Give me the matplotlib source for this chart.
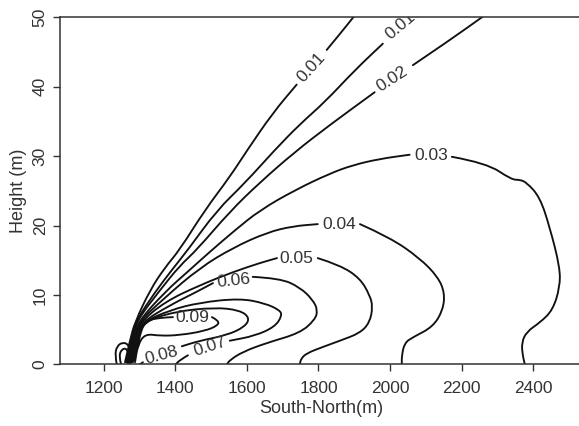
import numpy as np
import matplotlib
matplotlib.use("Agg")
import matplotlib.pyplot as plt
from matplotlib.path import Path
from matplotlib.patches import PathPatch

plt.rcParams["font.family"] = ["Liberation Sans", "DejaVu Sans"]

nan = np.nan

# concentration isolines, digitised along South-North (m) and height (m);
# NaN marks the gap left for the inline label
levels = ["0.01", "0.015", "0.02", "0.03", "0.04", "0.05", "0.06", "0.07", "0.08", "0.09"]

c010_x = [1259, 1273, 1287, 1329, 1370, 1412, 1482, 1552, 1600, 1672, 1739, nan, 1823, 1860, 1902]
c010_y = [0.3, 3.5, 6.1, 10.7, 13.9, 16.5, 22.2, 27.0, 30.8, 36.2, 40.3, nan, 45.3, 47.6, 50.3]
c015_x = [1262, 1276, 1290, 1343, 1390, 1435, 1516, 1594, 1678, 1748, 1818, 1902, 1980]
c015_y = [0.3, 3.5, 6.3, 10.4, 13.6, 16.5, 22.2, 26.1, 30.9, 34.6, 37.8, 42.4, 46.2]
c020_x = [1264, 1278, 1292, 1357, 1412, 1460, 1552, 1636, 1734, 1832, 1957, nan, 2064, 2167, 2265]
c020_y = [0.3, 3.5, 6.3, 10.7, 14.2, 16.5, 22.0, 26.2, 30.6, 34.5, 39.2, nan, 43.1, 46.7, 50.3]
c030_x = [1267, 1281, 1295, 1370, 1440, 1496, 1566, 1636, 1734, 1832, 1896, 1971, 2055, nan,
          2173, 2270, 2340, 2363, 2382, 2419, 2447, 2475, 2475, 2455, 2419, 2382, 2368, 2371, 2377]
c030_y = [0.3, 3.5, 6.1, 10.4, 13.6, 16.2, 19.3, 22.2, 25.1, 27.5, 28.7, 29.6, 30.2, nan,
          29.9, 29.0, 26.6, 26.6, 26.2, 24.1, 19.7, 14.0, 11.1, 7.8, 6.0, 4.7, 3.1, 1.3, 0]
c040_x = [1270, 1284, 1298, 1370, 1468, 1561, 1656, 1728, 1798, nan,
          1916, 1999, 2083, 2134, 2153, 2148, 2120, 2064, 2041, 2033, 2033]
c040_y = [0.3, 3.5, 6.1, 9.6, 13.9, 16.8, 19.0, 19.9, 20.2, nan,
          20.2, 18.3, 15.3, 12.6, 10.3, 7.8, 5.4, 3.9, 3.1, 1.3, 0]
c050_x = [1273, 1287, 1301, 1370, 1468, 1561, 1636, 1684, nan,
          1798, 1860, 1916, 1943, 1952, 1943, 1916, 1860, 1812, 1767, 1751, 1748]
c050_y = [0.3, 3.5, 6.0, 9.0, 11.4, 13.3, 14.6, 15.3, nan,
          15.3, 14.3, 12.4, 10.0, 8.3, 6.0, 4.5, 3.4, 2.5, 1.6, 0.8, 0]
c060_x = [1276, 1290, 1304, 1384, 1454, 1505, nan,
          1616, 1692, 1748, 1784, 1798, 1790, 1748, 1656, 1588, 1552, 1544]
c060_y = [0.3, 3.5, 6.0, 8.5, 10.3, 11.7, nan,
          12.6, 12.4, 11.1, 9.3, 7.8, 6.4, 4.5, 3.1, 1.8, 0.6, 0]
c070_x = [1278, 1292, 1306, 1384, 1468, 1580, 1650, 1692, 1698, 1678, 1622, 1552, nan, 1435, 1412, 1401]
c070_y = [0.3, 3.5, 6.0, 7.8, 8.9, 9.5, 8.8, 7.8, 7.0, 5.4, 4.1, 3.4, nan, 1.3, 0.6, 0]
c080_x = [1281, 1295, 1309, 1398, 1510, 1580, 1608, 1594, 1544, 1468, 1418, nan, 1309, 1301]
c080_y = [0.3, 3.5, 6.1, 7.6, 8.2, 7.8, 6.7, 5.4, 4.2, 3.4, 2.6, nan, 0.3, 0]
c090_x = [1284, 1298, 1315, 1357, 1393, nan, 1502, 1521, 1519, 1482, 1412, 1357, 1315, 1295, 1287]
c090_y = [0.6, 3.8, 6.3, 6.7, 6.8, nan, 6.8, 6.3, 5.6, 4.8, 4.2, 4.1, 4.4, 2.8, 0.3]

# small closed isolines right at the source
core_outer_x = [1236, 1231, 1236, 1253, 1270, 1276, 1273]
core_outer_y = [0, 1.3, 2.6, 3.2, 2.8, 1.3, 0]
core_inner_x = [1248, 1242, 1250, 1264, 1270, 1267]
core_inner_y = [0, 1.2, 2.2, 2.3, 1.2, 0]

# where each level's label sits, and its angle
label_x = [1781, 2040, 2005, 2114, 1857, 1739, 1563, 1496, 1362, 1446]
label_y = [42.8, 49.3, 41.1, 30.1, 20.1, 15.3, 12.1, 2.5, 1.3, 6.8]
label_rot = [48, 40, 33, 0, 0, 0, 6, 18, 15, 0]

paths = [(c010_x, c010_y), (c015_x, c015_y), (c020_x, c020_y), (c030_x, c030_y),
         (c040_x, c040_y), (c050_x, c050_y), (c060_x, c060_y), (c070_x, c070_y),
         (c080_x, c080_y), (c090_x, c090_y),
         (core_outer_x, core_outer_y), (core_inner_x, core_inner_y)]

x_ticks = [1200, 1400, 1600, 1800, 2000, 2200, 2400]
y_ticks = [0, 10, 20, 30, 40, 50]


def smooth_path(xs, ys):
    """Quadratic-Bezier path through the digitised vertices, broken at NaNs."""
    verts, codes = [], []
    pts = np.column_stack([xs, ys]).astype(float)
    breaks = np.where(np.isnan(pts[:, 0]))[0]
    for seg in np.split(pts, breaks):
        seg = seg[~np.isnan(seg[:, 0])]
        if len(seg) < 2:
            continue
        verts.append(seg[0]); codes.append(Path.MOVETO)
        for i in range(1, len(seg) - 1):
            mid = (seg[i] + seg[i + 1]) / 2
            verts += [seg[i], mid]; codes += [Path.CURVE3, Path.CURVE3]
        verts.append(seg[-1]); codes.append(Path.LINETO)
    return Path(verts, codes)


fig = plt.figure(figsize=(5.79, 4.26), dpi=100)
ax = fig.add_axes([0.1041, 0.1448, 0.9030, 0.8146])

for (xs, ys) in paths:
    ax.add_patch(PathPatch(smooth_path(xs, ys), fill=False, edgecolor="#111111",
                           lw=1.35, joinstyle="round", capstyle="round"))

for lab, lx, ly, rot in zip(levels, label_x, label_y, label_rot):
    ax.text(lx, ly, lab, rotation=rot, rotation_mode="anchor", ha="center", va="center",
            fontsize=12.5, color="#333333", clip_on=True)

ax.set_xlim(1078, 2540)
ax.set_ylim(0, 50)
ax.set_xticks(x_ticks)
ax.set_yticks(y_ticks)
ax.set_yticklabels([str(v) for v in y_ticks], rotation=90, va="center")
ax.tick_params(axis="both", direction="out", length=5, width=1, color="#333333",
               labelsize=12.5, labelcolor="#333333")
ax.tick_params(axis="x", pad=7)
ax.tick_params(axis="y", pad=4)
for sp in ax.spines.values():
    sp.set_color("#333333")
    sp.set_linewidth(1.1)

ax.set_xlabel("South-North(m)", fontsize=13, color="#333333", labelpad=3)
ax.set_ylabel("Height (m)", fontsize=13, color="#333333", labelpad=4)

fig.savefig("out.png", dpi=100)
